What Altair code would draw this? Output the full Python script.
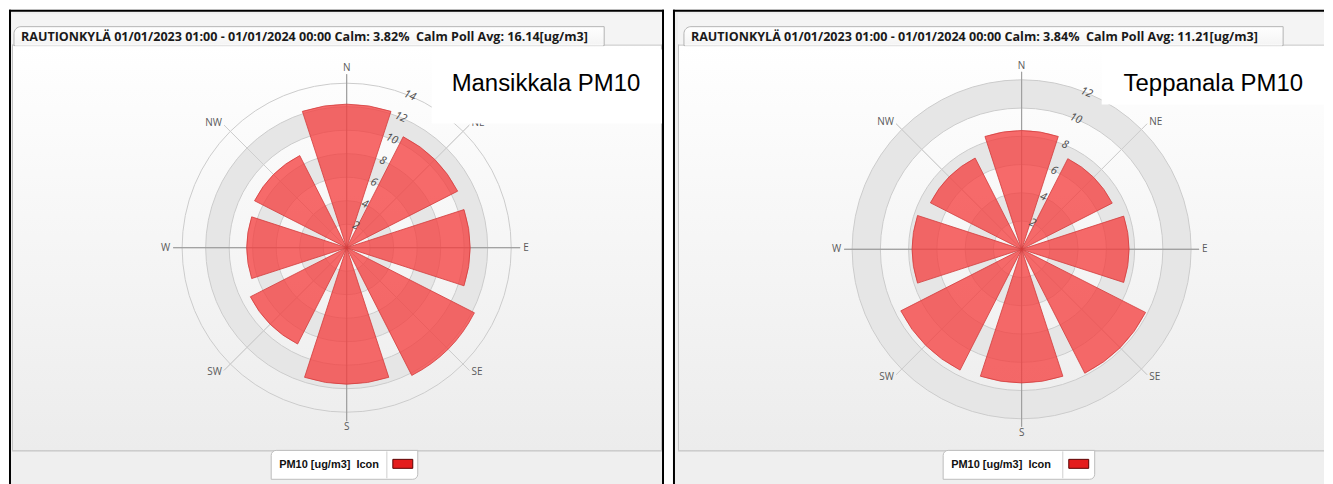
import math
import altair as alt
import pandas as pd

# ---------------- data ----------------
directions = ["N", "NE", "E", "SE", "S", "SW", "W", "NW"]
bearings = [0, 45, 90, 135, 180, 225, 270, 315]
mansikkala_pm10 = [12.2, 10.6, 10.5, 12.2, 11.6, 9.2, 8.5, 8.8]
teppanala_pm10 = [8.4, 7.2, 7.6, 9.85, 9.45, 9.6, 7.75, 7.25]
mansikkala_ticks = [2, 4, 6, 8, 10, 12, 14]
teppanala_ticks = [2, 4, 6, 8, 10, 12]
mansikkala_header = "RAUTIONKYLÄ 01/01/2023 01:00 - 01/01/2024 00:00 Calm: 3.82%\u00a0 Calm Poll Avg: 16.14[ug/m3]"
teppanala_header = "RAUTIONKYLÄ 01/01/2023 01:00 - 01/01/2024 00:00 Calm: 3.84%\u00a0 Calm Poll Avg: 11.21[ug/m3]"
station_labels = ["Mansikkala PM10", "Teppanala PM10"]
legend_label = "PM10 [ug/m3]\u00a0 Icon"

FONT = "Open Sans"
ARIAL = "Liberation Sans"
H = 476


def one_row():
    return pd.DataFrame({"k": [0]})


def rect(x, x2, y, y2, **kw):
    return alt.Chart(one_row()).mark_rect(**kw).encode(
        x=alt.value(x), x2=alt.value(x2), y=alt.value(y), y2=alt.value(y2))


def rule(x, x2, y, y2, **kw):
    return alt.Chart(one_row()).mark_rule(**kw).encode(
        x=alt.value(x), x2=alt.value(x2), y=alt.value(y), y2=alt.value(y2))


def label(t, x, y, **kw):
    return alt.Chart(one_row()).mark_text(text=t, **kw).encode(
        x=alt.value(x), y=alt.value(y))


def rose(values, ticks, cx, cy, r_px, spoke_px):
    theta_scale = alt.Scale(domain=[0, 360], range=[0, 2 * math.pi])
    radius_scale = alt.Scale(type="linear", domain=[0, ticks[-1]], range=[0, r_px], zero=True)
    unit = r_px / ticks[-1]
    spoke_r = spoke_px / unit
    side_r = (spoke_px + 3) / unit
    ns_r = (spoke_px + 6) / unit
    df = pd.DataFrame({"dir": directions, "bearing": bearings, "value": values})
    rings = pd.DataFrame({"tick": ticks})
    c = dict(x=alt.value(cx), y=alt.value(cy))

    def th(f):
        return alt.Theta(f, scale=theta_scale, stack=False)

    def rad(f):
        return alt.Radius(f, scale=radius_scale, stack=False)

    bands = alt.Chart(rings).transform_filter("datum.tick % 4 == 0").transform_calculate(
        lo="datum.tick - 2", t0="0", t1="360"
    ).mark_arc(fill="#e6e6e6").encode(
        theta=th("t0:Q"), theta2="t1:Q", radius=rad("tick:Q"), radius2="lo:Q", **c)

    circles = alt.Chart(rings).transform_calculate(t0="0", t1="360", z="0").mark_arc(
        fillOpacity=0, stroke="#cccccc", strokeWidth=1
    ).encode(theta=th("t0:Q"), theta2="t1:Q", radius=rad("tick:Q"), radius2="z:Q", **c)

    def spokes(filt, color):
        return alt.Chart(df).transform_filter(filt).transform_calculate(
            z="0", ext=str(spoke_r)
        ).mark_arc(fillOpacity=0, stroke=color, strokeWidth=1).encode(
            theta=th("bearing:Q"), theta2="bearing:Q", radius=rad("ext:Q"), radius2="z:Q", **c)

    spokes_minor = spokes("datum.bearing % 90 != 0", "#cfcfcf")
    spokes_major = spokes("datum.bearing % 90 == 0", "#a0a0a0")

    bars = alt.Chart(df).transform_calculate(
        t0="datum.bearing - 18", t1="datum.bearing + 18", z="0"
    ).mark_arc(fill="#f53c3c", fillOpacity=0.76, stroke="#d23c3c", strokeWidth=0.8).encode(
        theta=th("t0:Q"), theta2="t1:Q", radius=rad("value:Q"), radius2="z:Q", **c)

    tick_labels = alt.Chart(rings).transform_calculate(ang="22.5").mark_text(
        angle=22.5, fontStyle="italic", fontSize=11, font=FONT, color="#4a4a4a",
        align="center", baseline="middle"
    ).encode(theta=th("ang:Q"), radius=rad("tick:Q"), text="tick:Q", **c)

    def dir_labels(filt, align, r):
        return alt.Chart(df).transform_filter(filt).transform_calculate(lr=str(r)).mark_text(
            fontSize=10, font=FONT, color="#5a5a5a", align=align, baseline="middle"
        ).encode(theta=th("bearing:Q"), radius=rad("lr:Q"), text="dir:N", **c)

    lab_ns = dir_labels("datum.bearing % 180 == 0", "center", ns_r)
    lab_e = dir_labels("datum.bearing > 0 && datum.bearing < 180", "left", side_r)
    lab_w = dir_labels("datum.bearing > 180", "right", side_r)

    return [bands, circles, spokes_minor, spokes_major, bars, tick_labels, lab_ns, lab_e, lab_w]


def panel(values, ticks, header, station, W, lay):
    grad = alt.LinearGradient(
        gradient="linear",
        stops=[alt.GradientStop(color="#ffffff", offset=0),
               alt.GradientStop(color="#ececec", offset=1)],
        x1=0, x2=0, y1=0, y2=1)
    tab_grad = alt.LinearGradient(
        gradient="linear",
        stops=[alt.GradientStop(color="#ffffff", offset=0),
               alt.GradientStop(color="#f4f4f4", offset=1)],
        x1=0, x2=0, y1=0, y2=1)
    cx0, cx1 = lay["cx0"], lay["cx1"]
    layers = [
        rect(0, W, 0, H, fill="#efefef"),
        rect(cx0, cx1, 4, 35, fill="#f4f4f4"),
        rect(cx0, cx1, 35, 442, fill=grad),
        rule(cx0, cx1, 35.5, 35.5, stroke="#c2c2c2", strokeWidth=1),
        rule(cx0, cx1, 442.5, 442.5, stroke="#b8b8b8", strokeWidth=1),
        rule(cx0 + 0.5, cx0 + 0.5, 35, 442, stroke="#c2c2c2", strokeWidth=1),
    ]
    if lay.get("rborder"):
        layers.append(rule(cx1 - 0.5, cx1 - 0.5, 35, 442, stroke="#c2c2c2", strokeWidth=1))
    layers += [
        rect(lay["tx0"], lay["tx1"], 17, 36, fill=tab_grad, stroke="#b4b4b4", strokeWidth=1,
             cornerRadiusTopLeft=7),
        rule(lay["tx0"] + 1, lay["tx1"] - 1, 35.5, 35.5, stroke="#ffffff", strokeWidth=1),
        label(header, lay["tx0"] + 7, 27, font=FONT, fontSize=12.6, fontWeight="bold",
              color="#1a1a1a", align="left", baseline="middle"),
    ]
    layers += rose(values, ticks, lay["ox"], lay["oy"], lay["rpx"], lay["spoke"])
    layers += [
        rect(lay["wx0"], lay["wx1"], 40, lay["wy1"], fill="#ffffff"),
        label(station, lay["sx"], 82, font=ARIAL, fontSize=24, color="#000000",
              align="left", baseline="alphabetic"),
        rect(lay["lx0"], lay["lx1"], 442, 471, fill="#ffffff", stroke="#bdbdbd", strokeWidth=1,
             cornerRadiusTopLeft=5, cornerRadiusBottomRight=5),
        label(legend_label, lay["lx0"] + 8, 456.5, font=ARIAL, fontSize=11, fontWeight="bold",
              color="#111111", align="left", baseline="middle"),
        rule(lay["sep"], lay["sep"], 443, 470, stroke="#d0d0d0", strokeWidth=1),
        rect(lay["sep"] + 6, lay["sep"] + 26, 451, 460, fill="#e41c1c", stroke="#5a0000",
             strokeWidth=1),
        rule(0, W, 1, 1, stroke="#000000", strokeWidth=2),
        rule(1, 1, 0, H, stroke="#000000", strokeWidth=2),
    ]
    if lay.get("rborder"):
        layers.append(rule(W - 1, W - 1, 0, H, stroke="#000000", strokeWidth=2))
    return alt.layer(*layers).properties(width=W, height=H)


left = panel(mansikkala_pm10, mansikkala_ticks, mansikkala_header, station_labels[0], 657,
             dict(cx0=3, cx1=655, tx0=5, tx1=597, ox=338.7, oy=238.7, rpx=165,
                  spoke=174, wx0=424, wx1=655, wy1=114, sx=444,
                  lx0=263, lx1=410, sep=379, rborder=True))
right = panel(teppanala_pm10, teppanala_ticks, teppanala_header, station_labels[1], 653,
              dict(cx0=5, cx1=653, tx0=11, tx1=612, ox=349.7, oy=240.3, rpx=170,
                   spoke=178, wx0=430, wx1=653, wy1=95, sx=452,
                   lx0=271, lx1=423, sep=391, rborder=False))

chart = alt.hconcat(left, right, spacing=7).resolve_scale(
    theta="independent", radius="independent"
).properties(padding=0).configure_view(strokeWidth=0)

chart.save("out.html", embed_options={"renderer": "svg", "actions": False})
